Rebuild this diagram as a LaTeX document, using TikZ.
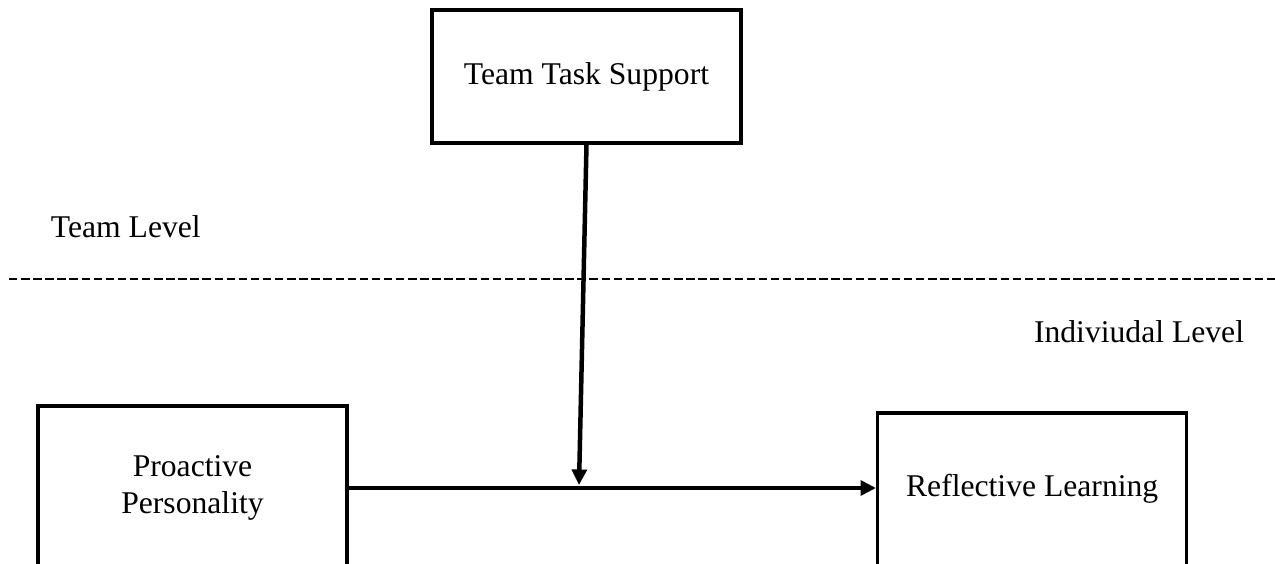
\documentclass[tikz,border=0pt]{standalone}
\usepackage{fontspec}
\setmainfont{Liberation Serif}
\usetikzlibrary{positioning,arrows.meta}

\begin{document}
\begin{tikzpicture}[x=0.025cm, y=-0.025cm,
  every node/.style={font=\fontsize{22.5}{26.3}\selectfont},
  box/.style={draw, rectangle, line width=2.3pt, minimum width=7.725cm, align=center, inner sep=0pt},
  link/.style={line width=3.2pt, -{Triangle[length=11pt, width=10.5pt]}},
  levelline/.style={line width=1.8pt, dash pattern=on 6pt off 2.6pt}]
  \useasboundingbox (0,0) rectangle (1275,564);
  \clip (0,0) rectangle (1275,564);
  \node[box, minimum height=3.325cm] (support) at (586.5,76.5) {Team Task Support};
  \node[box, minimum height=4.1cm] (proactive) at (192.5,488) {Proactive\\Personality};
  \node[box, minimum height=4.1cm, text depth=13.6pt, right=13.18cm of proactive, yshift=-0.175cm] (reflective) {Reflective Learning};
  \node[anchor=base west] (team) at (46,237) {Team Level};
  \node[anchor=base east] (indiv) at (1249,342) {Indiviudal Level};
  \coordinate (meet) at (579,485);
  % level boundary
  \draw[levelline] (9,279) -- (1275,279);
  \draw[link] (proactive) -- (reflective.west |- proactive);
  \draw[link] (support.south) -- (meet);
\end{tikzpicture}
\end{document}
